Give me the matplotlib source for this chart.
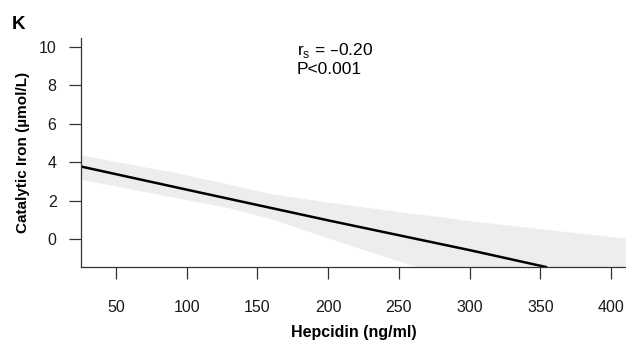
import numpy as np
import matplotlib
matplotlib.use('Agg')
import matplotlib.pyplot as plt

plt.rcParams['font.family'] = ['Liberation Sans', 'DejaVu Sans']

# fitted line
line_x = [25, 100, 200, 300, 354]
line_y = [3.78, 2.57, 0.97, -0.58, -1.46]

# confidence band
band_x = [25, 95, 130, 160, 200, 263, 280, 300, 410]
band_hi = [4.38, 3.42, 2.85, 2.36, 1.92, 1.30, 1.16, 0.95, 0.04]
band_lo = [3.11, 2.12, 1.62, 1.05, 0.05, -1.46, -1.90, -2.45, -5.50]

x_ticks = [50, 100, 150, 200, 250, 300, 350, 400]
y_ticks = [0, 2, 4, 6, 8, 10]

fig = plt.figure(figsize=(6.26, 3.48), dpi=100)
ax = fig.add_axes([81/626, 81/348, 545/626, 229/348])

ax.fill_between(band_x, band_lo, band_hi, color='#ededed', linewidth=0)
ax.plot(line_x, line_y, color='black', linewidth=1.8)

ax.set_xlim(25.3, 410.6)
ax.set_ylim(-1.46, 10.47)
ax.set_xticks(x_ticks)
ax.set_yticks(y_ticks)

for s in ['top', 'right']:
    ax.spines[s].set_visible(False)
for s in ['left', 'bottom']:
    ax.spines[s].set_color('#333333')
    ax.spines[s].set_linewidth(0.9)

ax.tick_params(axis='x', length=8.6, width=0.9, color='#333333', pad=15.5, labelsize=11.5, labelcolor='#1a1a1a')
ax.tick_params(axis='y', length=8.6, width=0.9, color='#333333', pad=9, labelsize=11.5, labelcolor='#1a1a1a')

ax.set_xlabel('Hepcidin (ng/ml)', fontsize=11.5, fontweight='bold', labelpad=7)
ax.set_ylabel('Catalytic Iron (µmol/L)', fontsize=11, fontweight='bold', labelpad=6)

ax.text(297 / 626, 1 - 55.5 / 348, r'r$_\mathregular{s}$ = –0.20', transform=fig.transFigure,
        fontsize=12.5, va='baseline', ha='left')
ax.text(297 / 626, 1 - 74 / 348, 'P<0.001', transform=fig.transFigure,
        fontsize=12.5, va='baseline', ha='left')

fig.text(12 / 626, 1 - 29 / 348, 'K', fontsize=13.5, fontweight='bold', va='baseline', ha='left')

fig.savefig('out.png', dpi=100)
